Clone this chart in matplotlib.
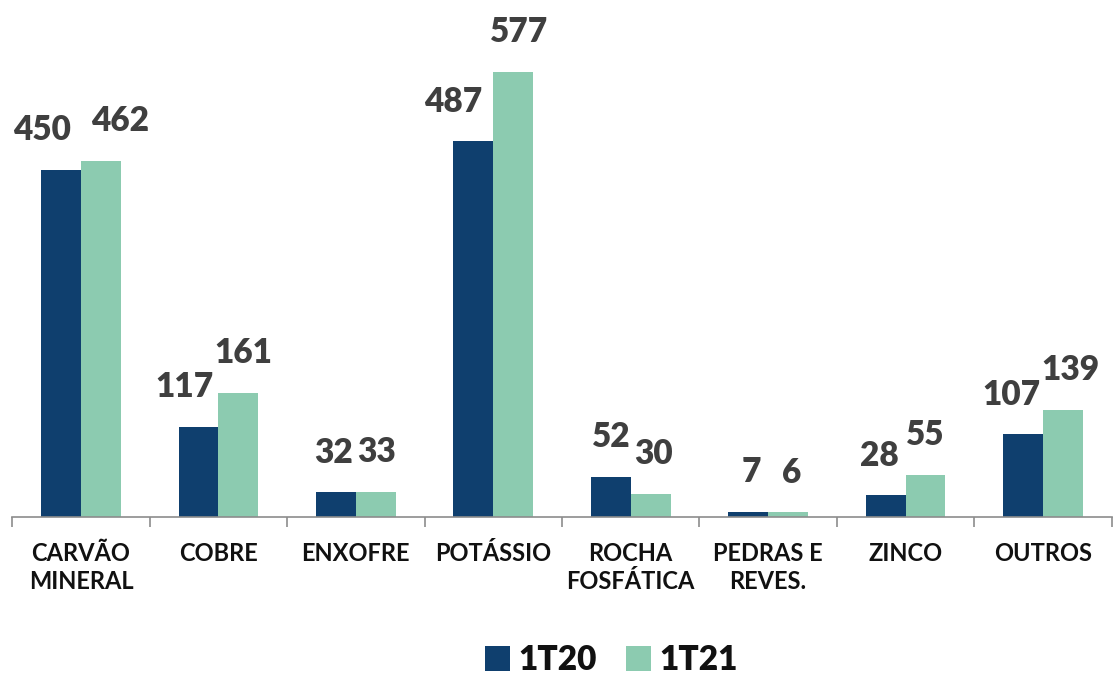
import matplotlib
matplotlib.use("Agg")
from matplotlib import pyplot as plt
import numpy as np

categorias = ["CARVÃO\nMINERAL", "COBRE", "ENXOFRE", "POTÁSSIO",
              "ROCHA\nFOSFÁTICA", "PEDRAS E\nREVES.", "ZINCO", "OUTROS"]
serie_1t20 = [450, 117, 32, 487, 52, 7, 28, 107]
serie_1t21 = [462, 161, 33, 577, 30, 6, 55, 139]
legenda = ["1T20", "1T21"]

# horizontal nudges (px) of the value labels, as in the original
dx_1t20 = [-19, -14, -2, -20, 0, 3, -6, -12]
dx_1t21 = [19, 5, 1, 6, 3, 4, 0, 7]

cor_escura = "#0f3f6e"
cor_clara = "#8ccbb0"
cor_texto = "#3f3f3f"

plt.rcParams["font.family"] = ["Lato", "DejaVu Sans"]

fig = plt.figure(figsize=(11.14, 6.75), dpi=100)
ax = fig.add_axes([0.011, 0.234, 0.987, 0.766])

x = np.arange(len(categorias))
w = 0.29
b1 = ax.bar(x - w / 2, serie_1t20, w, color=cor_escura, label=legenda[0])
b2 = ax.bar(x + w / 2, serie_1t21, w, color=cor_clara, label=legenda[1])

for barras, dxs in ((b1, dx_1t20), (b2, dx_1t21)):
    for r, dx in zip(barras, dxs):
        ax.annotate(f"{int(r.get_height())}",
                    (r.get_x() + r.get_width() / 2, r.get_height()),
                    xytext=(dx * 0.72, 17), textcoords="offset points",
                    ha="center", va="bottom", fontsize=24, fontweight="heavy",
                    color=cor_texto)

ax.set_xlim(-0.5, len(categorias) - 0.5)
ax.set_ylim(0, 670)
for s in ["top", "right", "left"]:
    ax.spines[s].set_visible(False)
ax.spines["bottom"].set_color("#8c8c8c")
ax.spines["bottom"].set_linewidth(1.2)
ax.set_yticks([])

ax.set_xticks(x)
ax.set_xticklabels(categorias, fontsize=17, fontweight="bold",
                   color="#111111", linespacing=1.25, va="top")
ax.tick_params(axis="x", which="major", length=0, pad=18)
ax.set_xticks(np.arange(len(categorias) + 1) - 0.5, minor=True)
ax.tick_params(axis="x", which="minor", length=7, width=1.2, color="#8c8c8c")

ax.legend(loc="center", bbox_to_anchor=(0.545, -0.277), ncol=2, frameon=False,
          prop={"size": 24, "weight": "heavy"}, handlelength=0.75,
          handleheight=0.75, handletextpad=0.25, columnspacing=0.9,
          labelcolor="#111111")

fig.savefig("out.png", dpi=100, facecolor="white")
